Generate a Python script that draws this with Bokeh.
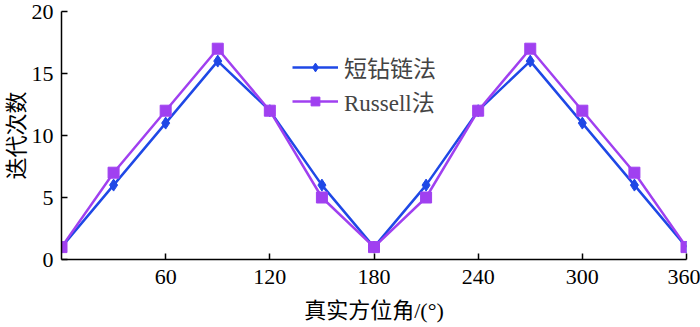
from bokeh.plotting import figure
from bokeh.models import Range1d, FixedTicker, Legend, LegendItem
from bokeh.embed import file_html
from bokeh.resources import INLINE

angles = [0, 30, 60, 90, 120, 150, 180, 210, 240, 270, 300, 330, 360]
short_chain = [1, 6, 11, 16, 12, 6, 1, 6, 12, 16, 11, 6, 1]
russell = [1, 7, 12, 17, 12, 5, 1, 5, 12, 17, 12, 7, 1]
series_names = ["短钻链法", "Russell法"]
x_ticks = [60, 120, 180, 240, 300, 360]
y_ticks = [0, 5, 10, 15, 20]

FONT = "'Liberation Serif', 'Noto Sans CJK SC', serif"
BLUE = "#1f48e6"
PURPLE = "#a040f0"

p = figure(width=700, height=327, output_backend="svg", toolbar_location=None,
           x_range=Range1d(0, 360), y_range=Range1d(0, 20),
           min_border_left=61, min_border_right=14, min_border_top=11, min_border_bottom=68)
p.outline_line_color = None
p.grid.visible = False
p.background_fill_color = "white"

for ax in (p.xaxis, p.yaxis):
    ax.axis_line_color = "black"
    ax.axis_line_width = 1.5
    ax.major_tick_line_color = "black"
    ax.major_tick_line_width = 1.5
    ax.major_tick_in = 6
    ax.major_tick_out = 0
    ax.minor_tick_line_color = None
    ax.major_label_text_font = "Liberation Serif"
    ax.major_label_text_font_size = "22px"
    ax.major_label_text_color = "black"
    ax.axis_label_text_font = FONT
    ax.axis_label_text_font_size = "22px"
    ax.axis_label_text_font_style = "normal"
    ax.axis_label_text_color = "black"

p.xaxis.ticker = FixedTicker(ticks=x_ticks)
p.yaxis.ticker = FixedTicker(ticks=y_ticks)
p.xaxis.axis_label = "真实方位角/(°)"
p.yaxis.axis_label = "迭代次数"
p.xaxis.major_label_standoff = 10
p.yaxis.major_label_standoff = 8
p.xaxis.axis_label_standoff = 11
p.yaxis.axis_label_standoff = 0

l1 = p.line(angles, short_chain, line_color=BLUE, line_width=2.5)
m1 = p.scatter(angles, short_chain, marker="diamond", size=12, fill_color=BLUE, line_color=BLUE)
l2 = p.line(angles, russell, line_color=PURPLE, line_width=2.5)
m2 = p.scatter(angles, russell, marker="square", size=11, fill_color=PURPLE, line_color=PURPLE)

legend = Legend(items=[LegendItem(label=series_names[0], renderers=[l1, m1]),
                       LegendItem(label=series_names[1], renderers=[l2, m2])],
                location=(231, 141), border_line_color=None, background_fill_alpha=0,
                label_text_font=FONT, label_text_font_size="23px",
                glyph_width=46, glyph_height=22, spacing=0, padding=0, margin=0,
                label_standoff=6)
p.add_layout(legend, "center")

open("out.html", "w").write(file_html(p, INLINE))
